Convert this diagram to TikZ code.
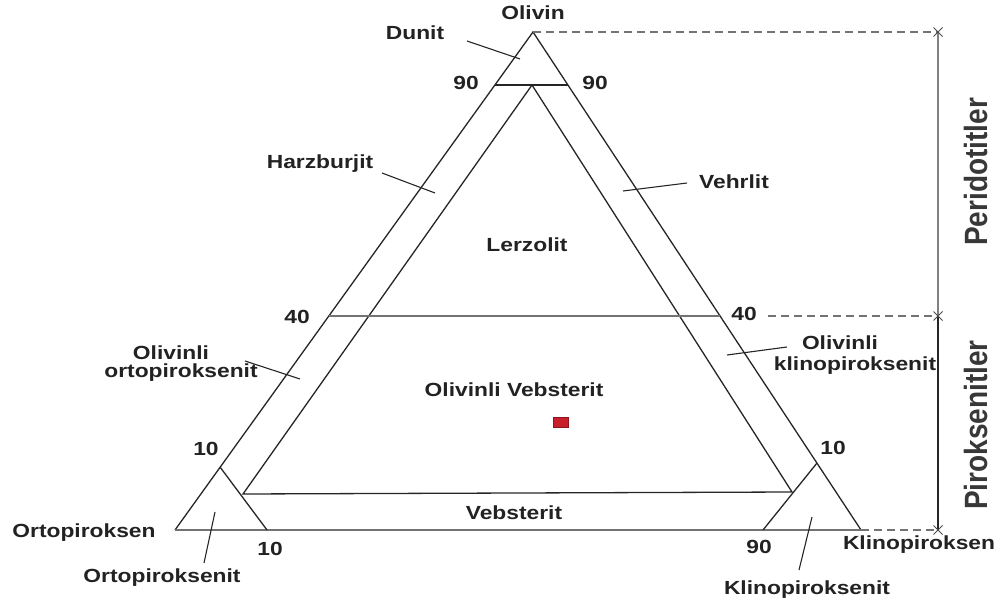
\documentclass[tikz,border=0pt]{standalone}
\usepackage{fontspec}
\usetikzlibrary{shapes.misc}
\newfontfamily\labfont{Liberation Sans}[FakeStretch=1.2]
\newfontfamily\vlabfont{Liberation Sans}
\definecolor{ink}{HTML}{222222}
\definecolor{sq}{HTML}{C8202A}
\begin{document}
\begin{tikzpicture}[x=1pt,y=-1pt,
  lab/.style={font=\labfont\bfseries\fontsize{19}{22}\selectfont, text=ink, inner sep=0pt},
  vlab/.style={font=\vlabfont\bfseries\fontsize{28}{30}\selectfont, text=ink!90, inner sep=0pt, rotate=90},
  edge/.style={draw=black!85, line width=1.3pt},
  paleedge/.style={draw=black!55, line width=1.6pt},
  leader/.style={draw=black!85, line width=1.1pt},
  guide/.style={draw=black!55, line width=1.1pt, dash pattern=on 8pt off 5pt},
  xmark/.style={cross out, draw=black!70, line width=1pt, minimum size=8pt, inner sep=0pt}]
\useasboundingbox (0,0) rectangle (1003,609);

% corners
\coordinate (O) at (533,32);
\coordinate (A) at (175,530);
\coordinate (C) at (861,530);
% inner triangle
\coordinate (I) at (532,85);
\coordinate (IL) at (243,494);
\coordinate (IR) at (792,492);
% iso lines
\coordinate (p90L) at (495,85);
\coordinate (p90R) at (568,85);
\coordinate (p40L) at (329,316);
\coordinate (p40R) at (720,316);
\coordinate (q10a) at (220,467);
\coordinate (q10b) at (267,530);
\coordinate (r10a) at (817,463);
\coordinate (r10b) at (763,530);
% scale bar
\coordinate (t1) at (938,32);
\coordinate (t2) at (938,316);
\coordinate (t3) at (938,530);

% triangle and lines
\draw[edge] (A) -- (O) -- (C);
\draw[paleedge] (A) -- (C);
\draw[edge] (I) -- (IL) -- (IR) -- cycle;
\draw[edge] (p90L) -- (p90R);
\draw[paleedge] (p40L) -- (p40R);
\draw[edge] (q10a) -- (q10b);
\draw[edge] (r10a) -- (r10b);

% labels
\node[lab] (olivin) at (533,13) {Olivin};
\node[lab] (dunit) at (415,33) {Dunit};
\node[lab] (n90L) at (466,83) {90};
\node[lab] (n90R) at (595,83) {90};
\node[lab] (harz) at (320,164) {Harzburjit};
\node[lab] (vehr) at (734,182) {Vehrlit};
\node[lab] (lerz) at (527,245) {Lerzolit};
\node[lab] (n40L) at (297,317) {40};
\node[lab] (n40R) at (744,314) {40};
\node[lab] (olL1) at (171,353) {Olivinli};
\node[lab] (olL2) at (181,373) {ortopiroksenit};
\node[lab] (olR1) at (840,343) {Olivinli};
\node[lab] (olR2) at (855,366) {klinopiroksenit};
\node[lab] (olveb) at (514,390) {Olivinli Vebsterit};
\node[lab] (n10L) at (206,449) {10};
\node[lab] (n10R) at (833,448) {10};
\node[lab] (veb) at (514,513) {Vebsterit};
\node[lab] (opx) at (84,533) {Ortopiroksen};
\node[lab] (n10B) at (270,549) {10};
\node[lab] (opxit) at (162,578) {Ortopiroksenit};
\node[lab] (n90B) at (759,547) {90};
\node[lab] (cpx) at (919,545) {Klinopiroksen};
\node[lab] (cpxit) at (807,590) {Klinopiroksenit};

% red marker
\node[fill=sq, draw=sq!70!black, line width=0.4pt, minimum width=15pt, minimum height=10pt, inner sep=0pt] (mark) at (561,422.5) {};

% leaders
\coordinate (dA) at (467,41);   \coordinate (dB) at (520,59);
\coordinate (hA) at (382,173);  \coordinate (hB) at (435,193);
\coordinate (vA) at (687,183);  \coordinate (vB) at (623,191);
\coordinate (oLA) at (245,361); \coordinate (oLB) at (300,379);
\coordinate (oRA) at (787,347); \coordinate (oRB) at (727,355);
\coordinate (opA) at (204,563); \coordinate (opB) at (215,512);
\coordinate (cpA) at (799,570); \coordinate (cpB) at (812,517);
\draw[leader] (dA) -- (dB);
\draw[leader] (hA) -- (hB);
\draw[leader] (vA) -- (vB);
\draw[leader] (oLA) -- (oLB);
\draw[leader] (oRA) -- (oRB);
\draw[leader] (opA) -- (opB);
\draw[leader] (cpA) -- (cpB);

% guides and scale bar
\draw[guide] (O) -- (t1);
\draw[guide] (n40R.east) ++(11,2) -- (t2);
\draw[guide] (C) -- (t3);
\draw[draw=black!50, line width=1.2pt] (t1) -- (t2);
\draw[draw=black!85, line width=1.3pt] (t2) -- (t3);
\node[xmark] (x1) at (t1) {};
\node[xmark] (x2) at (t2) {};
\node[xmark] (x3) at (t3) {};
\node[vlab] (perid) at (976,172) {\scalebox{1}[1.15]{Peridotitler}};
\node[vlab] (pirok) at (976,425) {\scalebox{1}[1.15]{Piroksenitler}};
\end{tikzpicture}
\end{document}
